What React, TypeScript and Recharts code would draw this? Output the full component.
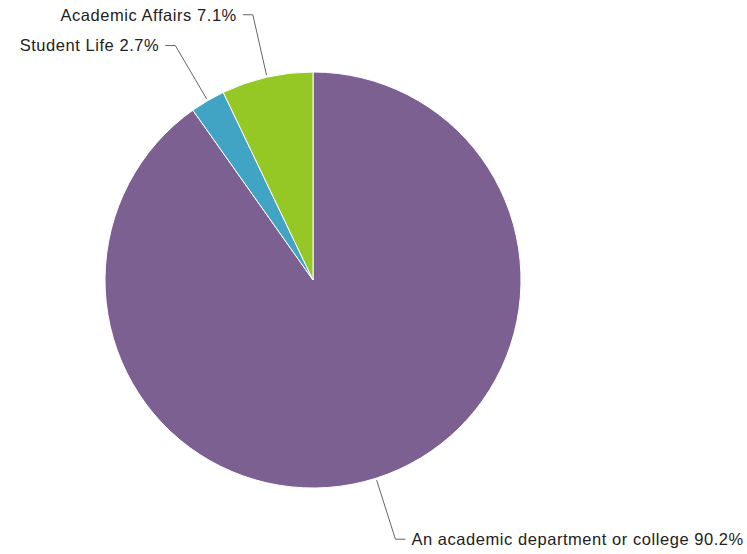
import React from 'react';
import { PieChart, Pie, Cell } from 'recharts';

// slice names, shares (%) and fills, clockwise from 12 o'clock
const names = ['An academic department or college', 'Student Life', 'Academic Affairs'];
const shares = [90.2, 2.7, 7.1];
const colors = ['#7c6092', '#41a4c5', '#95c825'];

const data = names.map((name, i) => ({ name, value: shares[i] }));

const RAD = Math.PI / 180;

// polyline: radial segment out from the rim, then a short horizontal tail
const labelLine = (props: any) => {
  const { cx, cy, midAngle, outerRadius } = props;
  const cos = Math.cos(-midAngle * RAD);
  const sin = Math.sin(-midAngle * RAD);
  const x1 = cx + (outerRadius + 2) * cos;
  const y1 = cy + (outerRadius + 2) * sin;
  const x2 = cx + (outerRadius + 64) * cos;
  const y2 = cy + (outerRadius + 64) * sin;
  const x3 = x2 + (cos >= 0 ? 10 : -10);
  return <polyline points={`${x1},${y1} ${x2},${y2} ${x3},${y2}`} fill="none" stroke="#666" strokeWidth={1} />;
};

const renderLabel = (props: any) => {
  const { cx, cy, midAngle, outerRadius, name, value } = props;
  const cos = Math.cos(-midAngle * RAD);
  const sin = Math.sin(-midAngle * RAD);
  const x = cx + (outerRadius + 64) * cos + (cos >= 0 ? 16 : -16);
  const y = cy + (outerRadius + 64) * sin;
  return (
    <text x={x} y={y} dy={6} textAnchor={cos >= 0 ? 'start' : 'end'} fill="#222" fontSize={16.5} letterSpacing={0.55} fontFamily="'Liberation Sans', Arial, sans-serif">
      {`${name} ${value}%`}
    </text>
  );
};

export default function App() {
  return (
    <div style={{ position: 'absolute', left: 0, top: 0, width: 747, height: 554, background: '#fff' }}>
      <PieChart width={747} height={554} margin={{ top: 0, right: 0, bottom: 0, left: 0 }}>
        <Pie
          data={data}
          dataKey="value"
          nameKey="name"
          cx={313}
          cy={280}
          outerRadius={208}
          startAngle={90}
          endAngle={-270}
          stroke="#fff"
          strokeWidth={1}
          label={renderLabel}
          labelLine={labelLine}
          isAnimationActive={false}
        >
          {data.map((d, i) => (
            <Cell key={d.name} fill={colors[i]} />
          ))}
        </Pie>
      </PieChart>
    </div>
  );
}
